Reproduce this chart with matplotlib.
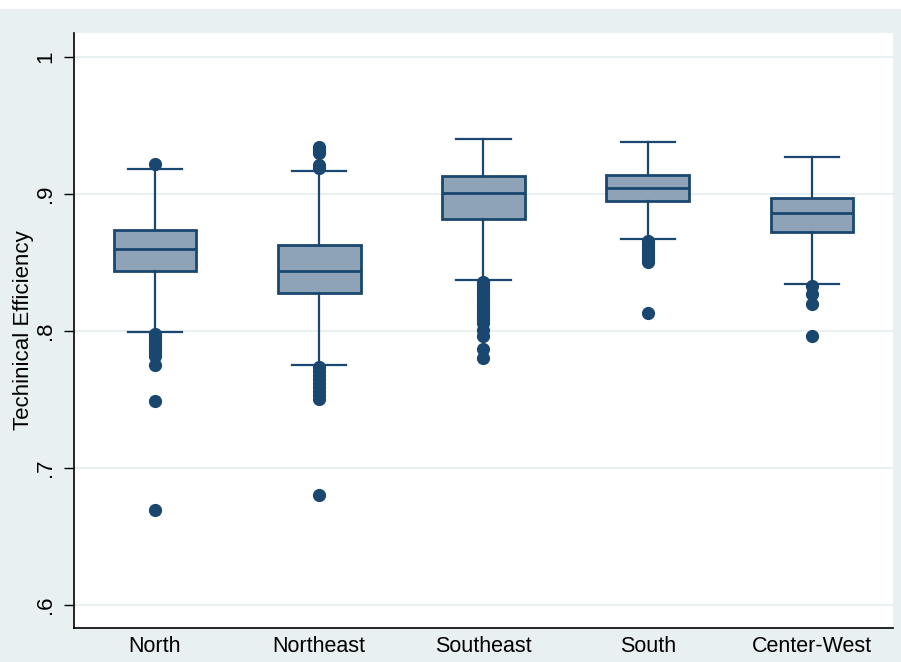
import matplotlib.pyplot as plt
from matplotlib.patches import Rectangle

# regions and box stats
regions = ["North", "Northeast", "Southeast", "South", "Center-West"]
q1 = [0.844, 0.828, 0.882, 0.895, 0.872]
med = [0.860, 0.844, 0.901, 0.904, 0.886]
q3 = [0.874, 0.863, 0.913, 0.914, 0.897]
whislo = [0.799, 0.775, 0.837, 0.867, 0.834]
whishi = [0.918, 0.917, 0.940, 0.938, 0.927]

out_north = [0.922, 0.798, 0.796, 0.794, 0.792, 0.790, 0.788, 0.786, 0.784,
             0.782, 0.775, 0.749, 0.669]
out_northeast = [0.934, 0.932, 0.930, 0.921, 0.919, 0.774, 0.771, 0.768,
                 0.765, 0.762, 0.759, 0.756, 0.753, 0.750, 0.680]
out_southeast = [0.836, 0.834, 0.832, 0.830, 0.828, 0.826, 0.824, 0.822,
                 0.820, 0.818, 0.816, 0.814, 0.812, 0.810, 0.808, 0.806,
                 0.801, 0.796, 0.787, 0.780]
out_south = [0.866, 0.864, 0.862, 0.860, 0.858, 0.856, 0.854, 0.852, 0.850,
             0.813]
out_centerwest = [0.833, 0.827, 0.820, 0.796]
outliers = [out_north, out_northeast, out_southeast, out_south, out_centerwest]

yticks = [0.6, 0.7, 0.8, 0.9, 1.0]
ytick_labels = [".6", ".7", ".8", ".9", "1"]

navy = "#1a476f"
fill = "#8ea3b7"
bg = "#e9f0f2"

plt.rcParams['font.family'] = ['Liberation Sans', 'DejaVu Sans']

fig = plt.figure(figsize=(9.01, 6.62), dpi=100, facecolor="white")
fig.patches.append(Rectangle((0, 0), 1, 1 - 9 / 662, transform=fig.transFigure,
                             facecolor=bg, edgecolor="none", zorder=-10))

ax = fig.add_axes([74 / 901, 1 - 628 / 662, (893 - 74) / 901, (628 - 33) / 662])
ax.set_facecolor("white")

stats = []
for i in range(len(regions)):
    stats.append(dict(med=med[i], q1=q1[i], q3=q3[i], whislo=whislo[i],
                      whishi=whishi[i], fliers=outliers[i], label=regions[i]))

ax.bxp(stats, positions=range(1, 6), widths=0.505, patch_artist=True,
       showfliers=True, capwidths=0.33,
       boxprops=dict(facecolor=fill, edgecolor=navy, linewidth=2),
       medianprops=dict(color=navy, linewidth=2),
       whiskerprops=dict(color=navy, linewidth=1.6),
       capprops=dict(color=navy, linewidth=1.6),
       flierprops=dict(marker="o", markerfacecolor=navy, markeredgecolor=navy,
                       markersize=8.5, linestyle="none"))

ax.set_xlim(0.507, 5.493)
ax.set_ylim(0.5832, 1.0175)
ax.set_yticks(yticks)
ax.set_yticklabels(ytick_labels, rotation=90, va="center", fontsize=16)
ax.set_xticks(range(1, 6))
ax.set_xticklabels(regions, fontsize=15.5)
ax.tick_params(axis="x", length=0, pad=6)
ax.tick_params(axis="y", length=7, width=1, direction="out", pad=6)
ax.grid(axis="y", color=bg, linewidth=1.5)
ax.set_axisbelow(True)
for s in ["top", "right"]:
    ax.spines[s].set_visible(False)
for s in ["left", "bottom"]:
    ax.spines[s].set_linewidth(1.2)
ax.set_ylabel("Techinical Efficiency", fontsize=16, labelpad=1)

fig.savefig("out.png", dpi=100, facecolor=fig.get_facecolor())
